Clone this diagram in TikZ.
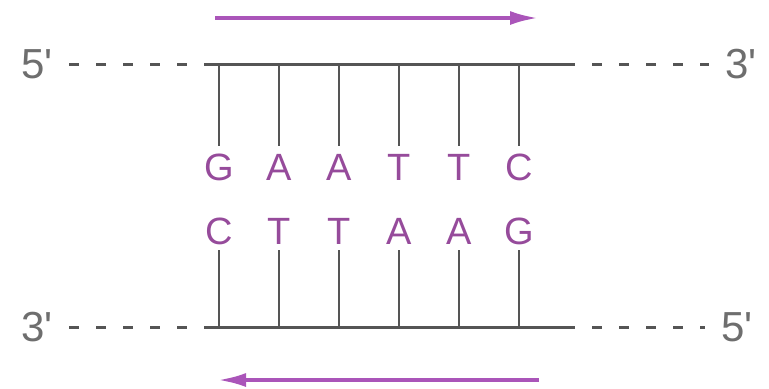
\documentclass[tikz,border=0pt]{standalone}
\usepackage{fontspec}
\newfontfamily\dnafont{Liberation Sans}
\usetikzlibrary{arrows.meta}
\definecolor{strandgray}{RGB}{85,85,85}
\definecolor{basepurple}{RGB}{150,75,155}
\definecolor{arrowpurple}{RGB}{170,85,185}
\tikzset{
  nuc/.style={font=\dnafont\fontsize{19}{19}\selectfont, text=basepurple, text height=14pt, text depth=0pt, inner sep=3pt},
  endlabel/.style={font=\dnafont\fontsize{21}{21}\selectfont, text=strandgray!85, inner xsep=8pt, inner ysep=0pt},
  strand/.style={draw=strandgray, line width=1.5pt},
  rung/.style={draw=strandgray, line width=1.2pt},
  tail/.style={draw=strandgray, line width=1.5pt, dash pattern=on 5pt off 8.5pt},
  readdir/.style={draw=arrowpurple, line width=1.8pt, -{Latex[length=14pt,width=7pt]}},
}

\begin{document}
\begin{tikzpicture}[x=0.5pt, y=-0.5pt]
  \useasboundingbox (0,0) rectangle (769,388);
  % top strand, 5' -> 3'
  \coordinate (t0) at (208,64); \coordinate (t1) at (575,64);
  \node[endlabel] (t5) at (37,64) {5'};
  \node[endlabel] (t3) at (741,64) {3'};
  \draw[tail] (t5) -- (t0); \draw[strand] (t0) -- (t1); \draw[tail, dash phase=5pt] (t1) -- (t3);
  % bottom strand, 3' -> 5'
  \coordinate (b0) at (208,327); \coordinate (b1) at (575,327);
  \node[endlabel] (b3) at (37,327) {3'};
  \node[endlabel] (b5) at (737,327) {5'};
  \draw[tail] (b3) -- (b0); \draw[strand] (b0) -- (b1); \draw[tail, dash phase=5pt] (b1) -- (b5);
  % base pairs
  \foreach \b [count=\i] in {G,A,A,T,T,C}
    \node[nuc, anchor=base] (g\i) at (159+60*\i,180) {\b};
  \foreach \b [count=\i] in {C,T,T,A,A,G}
    \node[nuc, anchor=base] (c\i) at (159+60*\i,244) {\b};
  \foreach \i in {1,...,6} {
    \draw[rung] (g\i.north |- t0) -- (g\i.north);
    \draw[rung] (c\i.south) -- (c\i.south |- b0);
  }
  % reading direction
  \coordinate (fw0) at (215,18); \coordinate (fw1) at (538,18);
  \coordinate (rv0) at (539,380); \coordinate (rv1) at (218,380);
  \draw[readdir] (fw0) -- (fw1);
  \draw[readdir] (rv0) -- (rv1);
\end{tikzpicture}
\end{document}
